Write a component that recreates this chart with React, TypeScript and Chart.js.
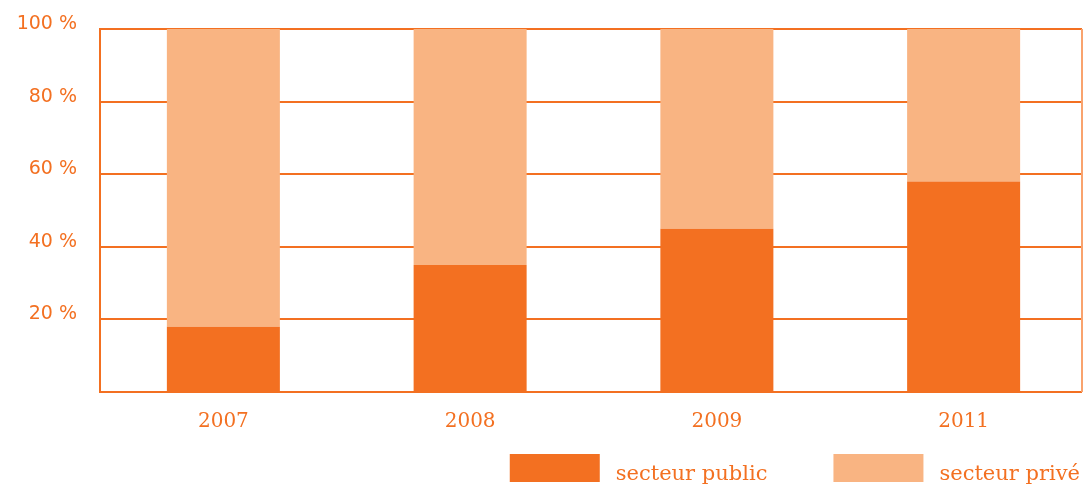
import React, { useEffect, useRef } from "react";
import { Chart, registerables } from "chart.js";

Chart.register(...registerables);

const years = ["2007", "2008", "2009", "2011"];
const publicShare = [18, 35, 45, 58];
const privateShare = [82, 65, 55, 42];
const yTicks = [0, 20, 40, 60, 80, 100];

const DARK = "#F37021";
const LIGHT = "#F9B482";
const FRAME_INSET = 5;

const frame = {
  id: "frame",
  beforeDatasetsDraw(chart: any) {
    const { ctx, chartArea, scales } = chart;
    const right = chartArea.right - FRAME_INSET;
    ctx.save();
    ctx.strokeStyle = DARK;
    ctx.lineWidth = 2;
    yTicks.forEach((v) => {
      const y = Math.round(scales.y.getPixelForValue(v));
      ctx.beginPath();
      ctx.moveTo(chartArea.left, y);
      ctx.lineTo(right, y);
      ctx.stroke();
    });
    ctx.beginPath();
    ctx.moveTo(chartArea.left, chartArea.top - 1);
    ctx.lineTo(chartArea.left, chartArea.bottom + 1);
    ctx.stroke();
    ctx.strokeStyle = "#F9A36E";
    ctx.beginPath();
    ctx.moveTo(right, chartArea.top);
    ctx.lineTo(right, chartArea.bottom);
    ctx.stroke();
    ctx.restore();
  },
  afterDraw(chart: any) {
    const { ctx } = chart;
    const boxW = 90, boxH = 28, gapText = 16, gapItem = 66;
    const font = "21px 'DejaVu Serif'";
    ctx.save();
    ctx.font = font;
    const items = chart.data.datasets.map((d: any) => ({
      label: d.label,
      color: d.backgroundColor,
      w: ctx.measureText(d.label).width,
    }));
    const total = items.reduce((s: number, it: any) => s + boxW + gapText + it.w, 0) + gapItem * (items.length - 1);
    let x = chart.width - 7 - total;
    const top = chart.height - 31;
    items.forEach((it: any) => {
      ctx.fillStyle = it.color;
      ctx.fillRect(x, top, boxW, boxH);
      x += boxW + gapText;
      ctx.fillStyle = DARK;
      ctx.textBaseline = "alphabetic";
      ctx.textAlign = "left";
      ctx.fillText(it.label, x, top + boxH - 2);
      x += it.w + gapItem;
    });
    ctx.restore();
  },
};

export default function App() {
  const ref = useRef<HTMLCanvasElement>(null);
  useEffect(() => {
    document.body.style.margin = "0";
    const chart = new Chart(ref.current!, {
      type: "bar",
      data: {
        labels: years,
        datasets: [
          { label: "secteur public", data: publicShare, backgroundColor: DARK, borderWidth: 0 },
          { label: "secteur privé", data: privateShare, backgroundColor: LIGHT, borderWidth: 0 },
        ],
      },
      options: {
        animation: false,
        responsive: false,
        maintainAspectRatio: false,
        layout: { padding: { top: 29, right: 0, bottom: 33, left: 0 } },
        datasets: { bar: { categoryPercentage: 1, barPercentage: 0.458 } },
        scales: {
          x: {
            stacked: true,
            grid: { display: false, drawTicks: false },
            border: { display: false },
            ticks: {
              color: DARK,
              font: { family: "DejaVu Serif", size: 20 },
              padding: 18,
            },
          },
          y: {
            stacked: true,
            min: 0,
            max: 100,
            afterFit: (s: any) => { s.width = 100; s.paddingTop = 0; s.paddingBottom = 0; },
            afterBuildTicks: (s: any) => { s.ticks = yTicks.map((v) => ({ value: v })); },
            grid: { display: false, drawTicks: false },
            border: { display: false },
            ticks: {
              color: DARK,
              font: { family: "DejaVu Sans", size: 19 },
              padding: 23,
              labelOffset: -5,
              callback: (v: any) => (v === 0 ? "" : v + " %"),
            },
          },
        },
        plugins: {
          tooltip: { enabled: false },
          legend: { display: false },
        },
      },
      plugins: [frame],
    });
    return () => chart.destroy();
  }, []);
  return <canvas ref={ref} width={1087} height={485} style={{ display: "block" }} />;
}
